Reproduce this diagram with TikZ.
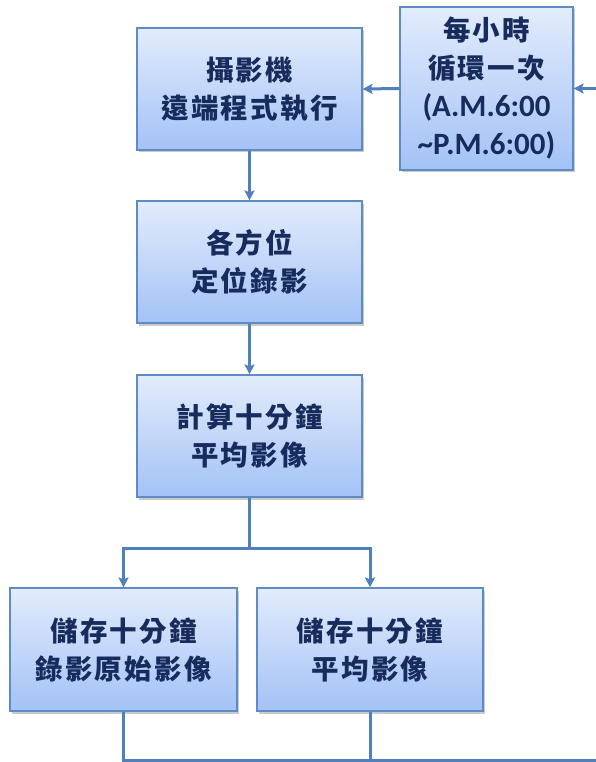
\documentclass[tikz,border=0pt]{standalone}
\usepackage{fontspec}
\newfontfamily\cjk{Noto Sans CJK TC}[LetterSpace=8]
\newfontfamily\lat{Carlito}
\usetikzlibrary{arrows.meta,shadows}
\definecolor{boxborder}{HTML}{5F8BC4}
\definecolor{linecol}{HTML}{4F7FBC}
\definecolor{txt}{HTML}{172C5C}
\definecolor{topc}{HTML}{E2ECFC}
\definecolor{botc}{HTML}{A3C2F6}
\tikzset{
  box/.style={draw=boxborder, line width=1.2pt, top color=topc, bottom color=botc,
    text=txt, align=center, inner sep=0pt, font=\cjk\bfseries\fontsize{27.5}{38}\selectfont,
    drop shadow={shadow xshift=2pt, shadow yshift=-2.5pt, opacity=0.35, fill=black!60}},
  conn/.style={draw=linecol, line width=3pt},
  arr/.style={conn, -{Stealth[length=10pt,width=10pt,inset=2pt]}}
}
\begin{document}
\begin{tikzpicture}[x=1pt,y=-1pt]
\useasboundingbox (0,0) rectangle (595,762);
\node[box, minimum width=225pt, minimum height=122pt] (b1) at (249.5,89) {攝影機\\遠端程式執行};
\node[box, minimum width=173pt, minimum height=163pt] (tr) at (486.5,88.5) {每小時\\循環一次\\{\lat\bfseries\fontsize{31}{38}\selectfont (A.M.6:00}\\{\lat\bfseries\fontsize{31}{38}\selectfont \textasciitilde P.M.6:00)}};
\node[box, minimum width=225pt, minimum height=122pt] (b2) at (249.5,262) {各方位\\定位錄影};
\node[box, minimum width=225pt, minimum height=122pt] (b3) at (249.5,436) {計算十分鐘\\平均影像};
\node[box, minimum width=227pt, minimum height=123pt] (b4) at (123.5,649.5) {儲存十分鐘\\錄影原始影像};
\node[box, minimum width=226pt, minimum height=123pt] (b5) at (370,649.5) {儲存十分鐘\\平均影像};
\coordinate (rin) at (597,88.5);
\coordinate (split) at (249.5,548);
\coordinate (bl) at (123.5,760);
\coordinate (br) at (597,760);
\coordinate (bm) at (370,760);
\draw[arr] (rin) -- (tr.east);
\draw[arr] (tr.west) -- (b1.east);
\draw[arr] (b1.south) -- (b2.north);
\draw[arr] (b2.south) -- (b3.north);
\draw[conn] (b3.south) -- (split);
\draw[arr] (split) -| (b4.north);
\draw[arr] (split) -| (b5.north);
\draw[conn] (b4.south) -- (bl) -- (br);
\draw[conn] (b5.south) -- (bm);
\end{tikzpicture}
\end{document}
